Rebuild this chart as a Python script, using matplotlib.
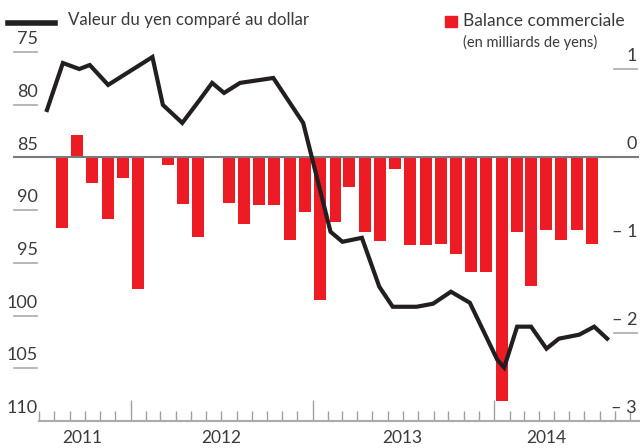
import pandas as pd
import matplotlib
matplotlib.use("Agg")
import matplotlib.pyplot as plt
import matplotlib.dates as mdates
import matplotlib.transforms as mtransforms
from matplotlib.lines import Line2D

plt.rcParams['font.family'] = ['Lato', 'DejaVu Sans']

# trade balance (monthly, Aug 2011 - Jul 2014)
bar_months = pd.date_range("2011-08-01", "2014-07-01", freq="MS")
balance = [-0.81, 0.25, -0.29, -0.70, -0.235, -1.50, 0.01, -0.09, -0.53, -0.91,
           -0.01, -0.52, -0.76, -0.55, -0.55, -0.94, -0.63, -1.63, -0.735, -0.34,
           -0.85, -0.95, -0.14, -1.00, -1.00, -0.99, -1.10, -1.31, -1.31, -2.77,
           -0.85, -1.47, -0.83, -0.94, -0.83, -0.985]

# yen per dollar
line_dates = pd.to_datetime([
    "2011-07-17", "2011-08-18", "2011-09-20", "2011-10-11", "2011-11-17",
    "2012-02-14", "2012-03-06", "2012-04-14", "2012-05-19", "2012-06-13",
    "2012-07-07", "2012-08-08", "2012-10-14", "2012-12-13", "2013-02-06",
    "2013-03-02", "2013-04-10", "2013-05-15", "2013-06-11", "2013-07-29",
    "2013-08-31", "2013-10-06", "2013-11-13", "2014-01-07", "2014-01-21",
    "2014-02-16", "2014-03-16", "2014-04-16", "2014-05-11", "2014-06-21",
    "2014-07-21", "2014-08-16"])
yen = [80.46, 76.0, 76.57, 76.19, 78.08, 75.43, 79.98, 81.69, 79.5, 77.89,
       78.84, 77.89, 77.42, 81.69, 92.03, 92.98, 92.6, 97.25, 99.15, 99.15,
       98.86, 97.72, 98.77, 104.17, 104.93, 101.04, 101.04, 103.13, 102.18, 101.80,
       101.04, 102.18]

left_ticks = [75, 80, 85, 90, 95, 100, 105, 110]
right_ticks = [1, 0, -1, -2, -3]
right_labels = ["1", "0", "\u2013 1", "\u2013 2", "\u2013 3"]
years = ["2011", "2012", "2013", "2014"]
year_pos = ["2011-09-25", "2012-07-01", "2013-07-01", "2014-04-15"]

RED = "#ed1c24"
INK = "#231f20"
GREY = "#a0a0a0"
TXT = "#3a3a3a"

W, H = 640, 448
fig = plt.figure(figsize=(6.4, 4.48), dpi=100)
x0, x1, ybot, ytop = 39, 640, 421, 20.9
ax = fig.add_axes([x0 / W, 1 - ybot / H, (x1 - x0) / W, (ybot - ytop) / H])
axl = ax.twinx()

# bars (right scale)
bar_x = bar_months + pd.Timedelta(days=15)
ax.bar(bar_x, balance, width=24, color=RED, zorder=2)
ax.set_ylim(-3, 1.547)
axl.set_ylim(110, 72)

# line (left scale)
axl.plot(line_dates, yen, color=INK, lw=3.0, solid_joinstyle='miter', zorder=5)

ax.set_xlim(pd.Timestamp("2011-07-01"), pd.Timestamp("2014-10-21"))

for a in (ax, axl):
    for s in ("top", "left", "right"):
        a.spines[s].set_visible(False)
    a.set_yticks([])
axl.spines["bottom"].set_visible(False)
ax.spines["bottom"].set_color("#aaaaaa")
ax.spines["bottom"].set_linewidth(1.5)

ax.xaxis.set_major_locator(mdates.YearLocator())
ax.xaxis.set_minor_locator(mdates.MonthLocator())
ax.xaxis.set_major_formatter(plt.NullFormatter())
ax.tick_params(axis="x", which="major", direction="in", length=15, width=1, color=GREY)
ax.tick_params(axis="x", which="minor", direction="in", length=7, width=1, color=GREY)
axl.tick_params(axis="x", which="both", length=0, labelbottom=False)

for y, p in zip(years, year_pos):
    ax.text(pd.Timestamp(p), -0.043, y, transform=ax.get_xaxis_transform(),
            ha="center", va="center", fontsize=12.5, color=TXT)

# left labels
tl = axl.get_yaxis_transform()
tl_up = mtransforms.offset_copy(tl, fig=fig, y=5, units="dots")
lx0, lx1 = (14 - x0) / (x1 - x0), (37 - x0) / (x1 - x0)
for v in left_ticks:
    axl.text(lx1 + 0.001, v, str(v), transform=tl_up, ha="right", va="bottom",
             fontsize=13, color=TXT)
    if v not in (85, 110):
        axl.plot([lx0, lx1], [v, v], transform=tl, color="#aaaaaa", lw=1.2, clip_on=False)

# baseline at 0 / 85
tr = ax.get_yaxis_transform()
tr_up = mtransforms.offset_copy(tr, fig=fig, y=5, units="dots")
rx0, rx1 = (614 - x0) / (x1 - x0), (637 - x0) / (x1 - x0)
ax.plot([lx0, rx1 + 0.002], [0, 0], transform=tr, color="#7a7a7a", lw=1.5, clip_on=False, zorder=3)
for v, lab in zip(right_ticks, right_labels):
    ax.text(rx1, v, lab, transform=tr_up, ha="right", va="bottom", fontsize=13, color=TXT)
    if v in (1, -2):
        ax.plot([rx0, rx1], [v, v], transform=tr, color="#aaaaaa", lw=1.2, clip_on=False)

# legend
fig.add_artist(Line2D([8 / W, 55 / W], [1 - 23 / H] * 2, color=INK, lw=4))
fig.text(68 / W, 1 - 20 / H, "Valeur du yen comparé au dollar", ha="left", va="center",
         fontsize=12.2, color=TXT)
fig.add_artist(plt.Rectangle((445 / W, 1 - 27 / H), 12 / W, 11 / H, color=RED))
fig.text(463 / W, 1 - 21 / H, "Balance commerciale", ha="left", va="center",
         fontsize=12.5, color=TXT)
fig.text(463 / W, 1 - 42 / H, "(en milliards de yens)", ha="left", va="center",
         fontsize=10.5, color=TXT)

fig.savefig("out.png", dpi=100)
